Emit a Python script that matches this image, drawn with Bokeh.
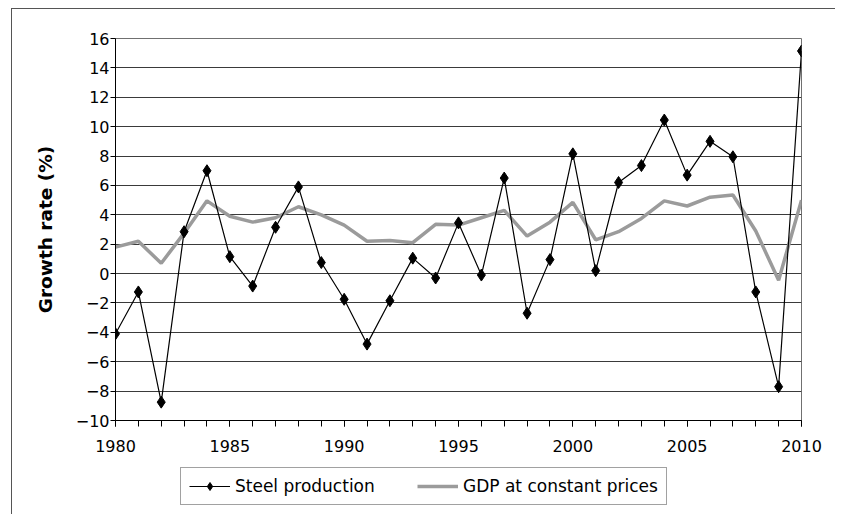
from bokeh.plotting import figure
from bokeh.layouts import column
from bokeh.models import FixedTicker, Legend, LegendItem
from bokeh.embed import file_html
from bokeh.resources import INLINE

years = list(range(1980, 2011))
steel = [-4.1, -1.25, -8.75, 2.85, 7.0, 1.15, -0.85, 3.15, 5.9, 0.75,
         -1.75, -4.8, -1.85, 1.05, -0.3, 3.45, -0.1, 6.5, -2.7, 0.95,
         8.15, 0.2, 6.2, 7.35, 10.45, 6.7, 9.0, 7.95, -1.25, -7.7, 15.15]
gdp = [1.8, 2.2, 0.7, 2.75, 4.95, 3.9, 3.5, 3.8, 4.55, 4.0,
       3.3, 2.2, 2.25, 2.1, 3.35, 3.3, 3.8, 4.3, 2.55, 3.5,
       4.85, 2.3, 2.85, 3.75, 4.95, 4.6, 5.2, 5.35, 2.9, -0.45, 5.0]
x_major = [1980, 1985, 1990, 1995, 2000, 2005, 2010]
y_ticks = [-10, -8, -6, -4, -2, 0, 2, 4, 6, 8, 10, 12, 14, 16]
series_names = ["Steel production", "GDP at constant prices"]
y_title = "Growth rate (%)"

FONT = "DejaVu Sans"
STEEL_STYLE = dict(line_color="black", line_width=1.2)
GDP_STYLE = dict(line_color="#9b9b9b", line_width=3.5)
MARKER_STYLE = dict(marker="diamond", size=12, fill_color="black", line_color="black")

p1 = figure(width=823, height=455, x_range=(1980, 2010), y_range=(-10, 16),
            output_backend="svg", toolbar_location=None,
            min_border_left=103, min_border_right=34,
            min_border_top=29, min_border_bottom=44)
p1.background_fill_color = "white"
p1.border_fill_color = "white"
p1.outline_line_color = "#707070"
p1.outline_line_width = 1

# axes
p1.xaxis.ticker = FixedTicker(ticks=x_major, minor_ticks=years)
p1.yaxis.ticker = FixedTicker(ticks=y_ticks)
for ax in (p1.xaxis[0], p1.yaxis[0]):
    ax.axis_line_color = "black"
    ax.axis_line_width = 1
    ax.major_tick_line_color = "black"
    ax.minor_tick_line_color = "black"
    ax.major_tick_in = 0
    ax.minor_tick_in = 0
    ax.major_label_text_font = FONT
    ax.major_label_text_font_size = "16px"
    ax.major_label_text_color = "black"
p1.xaxis.major_tick_out = 6
p1.xaxis.minor_tick_out = 6
p1.xaxis.major_label_standoff = 13
p1.yaxis.major_tick_out = 5
p1.yaxis.minor_tick_line_color = None
p1.yaxis.major_label_standoff = 1
p1.yaxis.axis_label = y_title
p1.yaxis.axis_label_text_font = FONT
p1.yaxis.axis_label_text_font_style = "bold"
p1.yaxis.axis_label_text_font_size = "18.5px"
p1.yaxis.axis_label_text_color = "black"
p1.yaxis.axis_label_standoff = 17

p1.xgrid.visible = False
p1.ygrid.grid_line_color = "#3a3a3a"
p1.ygrid.grid_line_width = 1

# series
p1.line(years, gdp, **GDP_STYLE)
p1.line(years, steel, **STEEL_STYLE)
p1.scatter(years, steel, **MARKER_STYLE)

# legend strip below the chart (same series, drawn outside this strip's view)
p2 = figure(width=823, height=50, x_range=(0, 1), y_range=(0, 1),
            output_backend="svg", toolbar_location=None,
            x_axis_location=None, y_axis_location=None,
            min_border=0)
p2.outline_line_color = None
p2.background_fill_color = "white"
p2.border_fill_color = "white"
p2.grid.visible = False
lg_gdp = p2.line(years, gdp, **GDP_STYLE)
lg_steel_line = p2.line(years, steel, **STEEL_STYLE)
lg_steel_pts = p2.scatter(years, steel, **MARKER_STYLE)

legend = Legend(items=[LegendItem(label=series_names[0], renderers=[lg_steel_line, lg_steel_pts]),
                       LegendItem(label=series_names[1], renderers=[lg_gdp])],
                location=(65, 9), orientation="horizontal")
legend.label_text_font = FONT
legend.label_text_font_size = "17px"
legend.label_text_color = "black"
legend.glyph_width = 41
legend.glyph_height = 20
legend.label_standoff = 5
legend.label_width = 182
legend.spacing = 0
legend.padding = 8
legend.margin = 0
legend.border_line_color = "#444444"
legend.border_line_width = 1
legend.background_fill_color = "white"
legend.background_fill_alpha = 1
p2.add_layout(legend)

layout = column(p1, p2, spacing=0,
                styles={"border-left": "1px solid #555555", "border-top": "1px solid #555555",
                        "margin-left": "11px", "margin-top": "8px"})

open("out.html", "w").write(file_html(layout, INLINE))
